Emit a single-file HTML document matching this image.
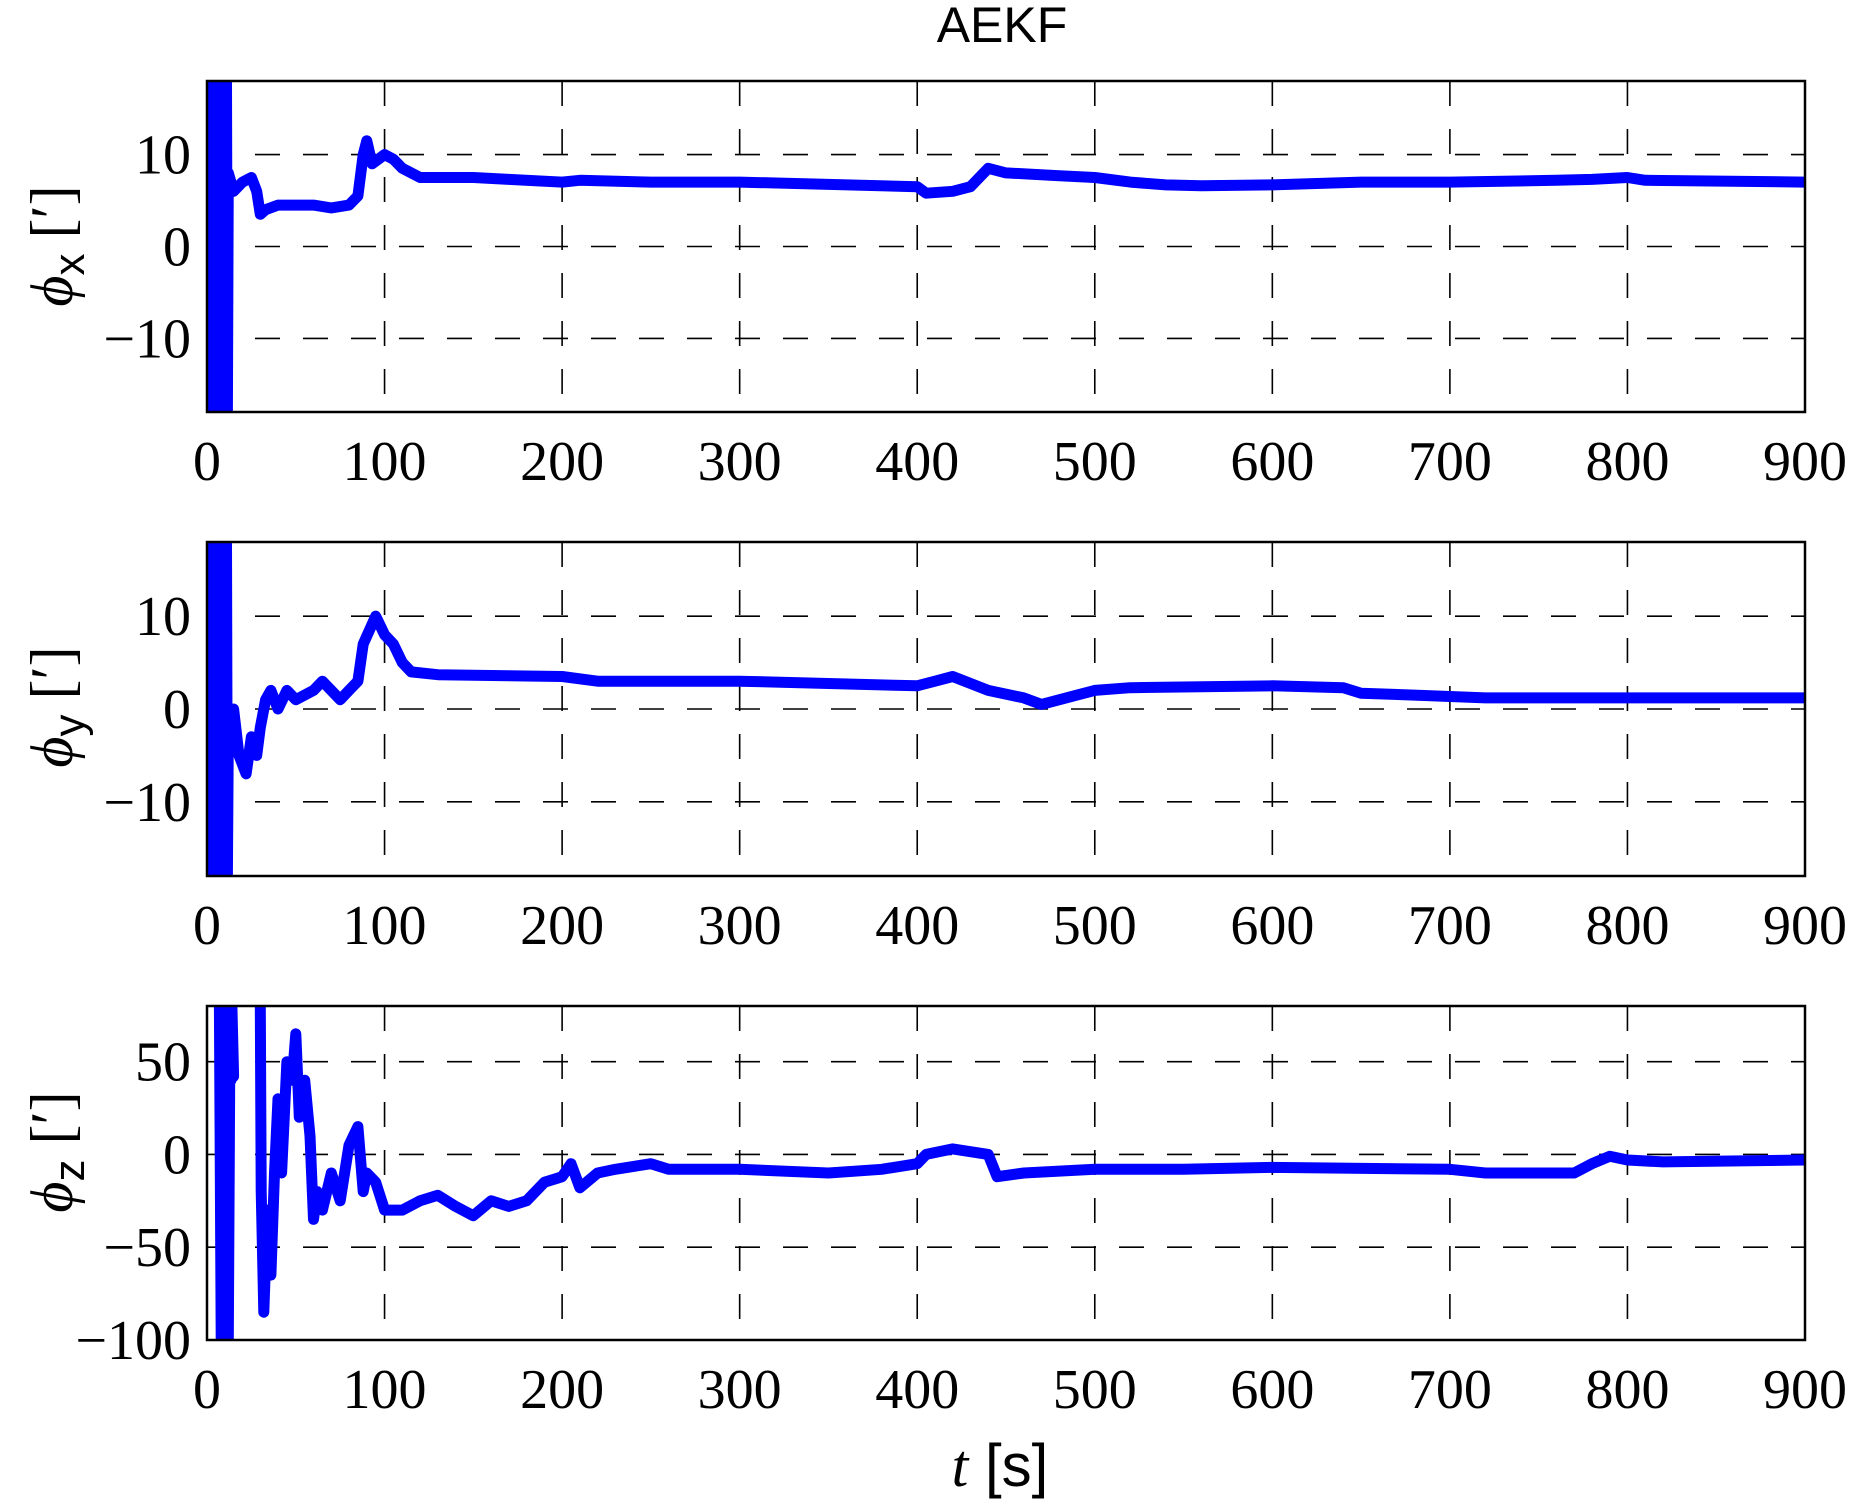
<!DOCTYPE html>
<html><head><meta charset="utf-8"><style>
html,body{margin:0;padding:0;background:#fff;}
svg{display:block;}
text{font-family:"Liberation Serif",serif;fill:#000;}
</style></head><body>
<svg id="chart" width="1853" height="1507" viewBox="0 0 1853 1507" xmlns="http://www.w3.org/2000/svg">
<text x="1002" y="42" text-anchor="middle" style="font-family:'Liberation Sans',sans-serif;font-size:50px">AEKF</text>
<text x="1000" y="1486" text-anchor="middle" style="font-family:'Liberation Sans',sans-serif;font-size:60px"><tspan font-style="italic" font-family="Liberation Serif">t</tspan>  [s]</text>
</svg>
<script>
const xTicks = [0,100,200,300,400,500,600,700,800,900];
const ticksXY = [-10,0,10];
const ticksZ = [-100,-50,0,50];
const tX = [0,0.5,1,1.5,2,2.5,3,3.5,4,4.5,5,5.5,6,6.5,7,7.5,8,8.5,9,9.5,10,10.5,11,11.5,12,15,20,25,28,30,33,40,60,70,80,85,88,90,93,100,105,110,120,150,170,200,210,250,300,400,405,420,430,440,450,480,500,520,540,560,600,650,700,760,780,800,810,900];
const vX = [18,-18,18,-18,18,-18,18,-18,18,-18,18,-18,18,-18,18,-18,18,-18,18,-18,18,-18,18,-18,8,6,7,7.5,6,3.5,4,4.5,4.5,4.2,4.5,5.5,10,11.5,9,10,9.5,8.5,7.5,7.5,7.3,7,7.2,7,7,6.5,5.8,6,6.5,8.5,8,7.7,7.5,7,6.7,6.6,6.7,7,7,7.2,7.3,7.5,7.2,7];
const tY = [0,0.5,1,1.5,2,2.5,3,3.5,4,4.5,5,5.5,6,6.5,7,7.5,8,8.5,9,9.5,10,10.5,11,11.5,12,15,18,22,25,28,30,33,36,40,45,50,60,65,70,75,80,85,88,95,100,105,110,115,130,200,220,270,300,400,410,420,440,460,470,490,500,520,600,640,650,680,720,900];
const vY = [18,-18,18,-18,18,-18,18,-18,18,-18,18,-18,18,-18,18,-18,18,-18,18,-18,18,-18,18,-18,-3,0,-5,-7,-3,-5,-2,1,2,0,2,1,2,3,2,1,2,3,7,10,8,7,5,4,3.7,3.5,3,3,3,2.5,3,3.5,2,1.2,0.5,1.5,2,2.3,2.5,2.3,1.7,1.5,1.2,1.2];
const tZ = [7,8,9,10,11,12,13,13.5,14,15,22,30,30.5,32,34,36,38,40,42,45,48,50,52,55,58,60,62,65,70,75,80,85,88,90,95,100,110,120,130,140,150,160,170,180,190,200,205,210,220,230,250,260,300,350,380,400,405,420,440,445,460,500,550,600,700,720,770,780,790,800,820,900];
const vZ = [80,-100,80,-100,80,-100,80,40,80,42,null,80,-20,-85,-30,-65,-10,30,-10,50,40,65,20,40,10,-35,-20,-30,-10,-25,5,15,-20,-10,-15,-30,-30,-25,-22,-28,-33,-25,-28,-25,-15,-12,-5,-18,-10,-8,-5,-8,-8,-10,-8,-5,0,3,0,-12,-10,-8,-8,-7,-8,-10,-10,-5,-1,-3,-4,-3];

const NS='http://www.w3.org/2000/svg';
const svg=document.getElementById('chart');
const L=207,R=1805;
const panels=[
 {top:81,bot:412,ymin:-18,ymax:18,ticks:ticksXY,t:tX,v:vX,sub:'x',lab:246,name:'phi-x'},
 {top:542,bot:876,ymin:-18,ymax:18,ticks:ticksXY,t:tY,v:vY,sub:'y',lab:707,name:'phi-y'},
 {top:1006,bot:1340,ymin:-100,ymax:80,ticks:ticksZ,t:tZ,v:vZ,sub:'z',lab:1152,name:'phi-z'}
];
function mk(tag,attrs){const e=document.createElementNS(NS,tag);for(const k in attrs)e.setAttribute(k,attrs[k]);return e;}
const xs=t=>L+(t/900)*(R-L);
panels.forEach((p,i)=>{
 const ys=v=>p.bot-(v-p.ymin)/(p.ymax-p.ymin)*(p.bot-p.top);
 const g=mk('g',{});
 
 
 svg.appendChild(g);
 const cp=mk('clipPath',{id:'cp'+i});
 cp.appendChild(mk('rect',{x:L,y:p.top,width:R-L,height:p.bot-p.top}));
 g.appendChild(cp);
 xTicks.forEach(t=>{
  const x=xs(t);
  if(t>0&&t<900){const gl=mk('line',{x1:x,x2:x,y1:p.top,y2:p.bot,stroke:'#000','stroke-width':1.6,'stroke-dasharray':'25 23'});
  g.appendChild(gl);}
  const tl=mk('text',{x:x,y:p.bot+68,'text-anchor':'middle','font-size':56});
  tl.textContent=t;
  
  g.appendChild(tl);
 });
 p.ticks.forEach(v=>{
  const y=ys(v);
  const gl=mk('line',{x1:L,x2:R,y1:y,y2:y,stroke:'#000','stroke-width':1.6,'stroke-dasharray':'25 23'});
  g.appendChild(gl);
  const tl=mk('text',{x:L-16,y:y+19,'text-anchor':'end','font-size':56});
  tl.textContent=v<0?'\u2212'+(-v):v;
  
  g.appendChild(tl);
 });
 let d='',pen=false;
 p.t.forEach((t,j)=>{
  if(p.v[j]===null){pen=false;return;}
  d+=(pen?'L':'M')+xs(t).toFixed(1)+','+ys(p.v[j]).toFixed(1);pen=true;
 });
 const line=mk('path',{d:d,fill:'none',stroke:'#0000ff','stroke-width':11,'stroke-linejoin':'round','stroke-linecap':'round','clip-path':'url(#cp'+i+')'});
 
 
 g.appendChild(line);
 const fr=mk('rect',{x:L,y:p.top,width:R-L,height:p.bot-p.top,fill:'none',stroke:'#000','stroke-width':2.5});
 
 g.appendChild(fr);
 const yl=mk('text',{transform:'translate(72,'+p.lab+') rotate(-90)','text-anchor':'middle','font-size':60});
 yl.innerHTML='<tspan font-style="italic">\u03d5</tspan><tspan font-family="Liberation Sans" font-size="44" dy="12">'+p.sub+'</tspan><tspan dy="-12"> [\u2032]</tspan>';
 
 g.appendChild(yl);
});
</script>
</body></html>
